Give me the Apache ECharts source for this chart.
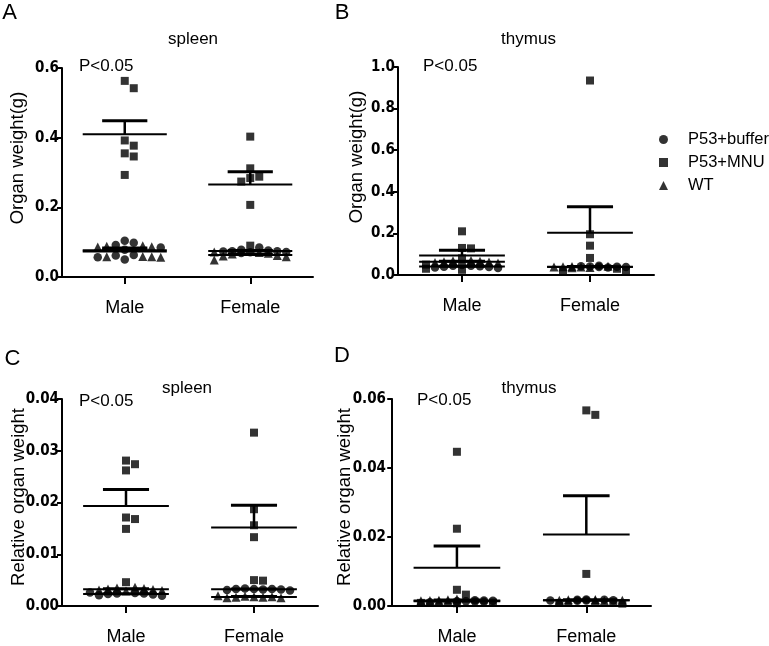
<!DOCTYPE html>
<html>
<head>
<meta charset="utf-8">
<script src="https://cdn.jsdelivr.net/npm/echarts@6/dist/echarts.min.js"></script>
<style>
  html, body { margin: 0; padding: 0; background: #fff; }
  #chart { width: 769px; height: 646px; }
</style>
</head>
<body>
<div id="chart"></div>
<script>
// categories and groups
const categories = ['Male', 'Female'];
const groupNames = ['P53+buffer', 'P53+MNU', 'WT'];

// A: spleen, organ weight (g)
const aBufferMale   = [0.098, 0.104, 0.092, 0.085, 0.063, 0.050, 0.057, 0.062, 0.078];
const aMnuMale      = [0.563, 0.542, 0.392, 0.377, 0.355, 0.346, 0.293];
const aWtMale       = [0.090, 0.087, 0.088, 0.058, 0.059, 0.057, 0.058, 0.086];
const aBufferFemale = [0.085, 0.078, 0.074, 0.072, 0.069, 0.076, 0.073, 0.071, 0.074];
const aMnuFemale    = [0.403, 0.312, 0.284, 0.274, 0.288, 0.207, 0.090];
const aWtFemale     = [0.049, 0.058, 0.060, 0.062, 0.068, 0.072, 0.066, 0.070];

// B: thymus, organ weight (g)
const bBufferMale   = [0.034, 0.038, 0.042, 0.045, 0.040, 0.036, 0.048, 0.044];
const bMnuMale      = [0.210, 0.130, 0.128, 0.080, 0.050, 0.030, 0.025];
const bWtMale       = [0.058, 0.064, 0.066, 0.060, 0.070, 0.062, 0.068];
const bBufferFemale = [0.040, 0.036, 0.042, 0.038, 0.044, 0.039, 0.041];
const bMnuFemale    = [0.935, 0.196, 0.141, 0.082, 0.030, 0.020, 0.020];
const bWtFemale     = [0.035, 0.040, 0.038, 0.042, 0.036, 0.041, 0.039];

// C: spleen, relative organ weight
const cBufferMale   = [0.0022, 0.0024, 0.0021, 0.0025, 0.0023, 0.0020, 0.0026, 0.0024];
const cMnuMale      = [0.0274, 0.0262, 0.0281, 0.0171, 0.0168, 0.0149, 0.0046];
const cWtMale       = [0.0036, 0.0031, 0.0034, 0.0029, 0.0035, 0.0032, 0.0030, 0.0033];
const cBufferFemale = [0.0033, 0.0032, 0.0034, 0.0031, 0.0033, 0.0032, 0.0030, 0.0033];
const cMnuFemale    = [0.0335, 0.0187, 0.0156, 0.0133, 0.0050, 0.0049];
const cWtFemale     = [0.0017, 0.0016, 0.0019, 0.0018, 0.0017, 0.0020, 0.0016, 0.0018];

// D: thymus, relative organ weight
const dBufferMale   = [0.0012, 0.0016, 0.0014, 0.0013, 0.0017, 0.0011, 0.0015, 0.0014];
const dMnuMale      = [0.0447, 0.0224, 0.0047, 0.0033, 0.0010, 0.0009, 0.0008];
const dWtMale       = [0.0018, 0.0015, 0.0020, 0.0014, 0.0017, 0.0016, 0.0013];
const dBufferFemale = [0.0016, 0.0018, 0.0015, 0.0019, 0.0017, 0.0016, 0.0018];
const dMnuFemale    = [0.0567, 0.0554, 0.0093, 0.0012, 0.0009, 0.0007];
const dWtFemale     = [0.0017, 0.0015, 0.0019, 0.0016, 0.0018, 0.0014, 0.0017];

// y tick labels per panel
const aTicks = [0, 0.2, 0.4, 0.6];
const bTicks = [0, 0.2, 0.4, 0.6, 0.8, 1.0];
const cTicks = [0, 0.01, 0.02, 0.03, 0.04];
const dTicks = [0, 0.02, 0.04, 0.06];

const SANS = "'Liberation Sans', Arial, sans-serif";
const NARROW = "'Liberation Sans Narrow', 'DejaVu Sans Condensed', sans-serif";
const symbols = ['circle', 'rect', 'triangle'];
const symbolSizes = [8.5, 8, 9];

const panels = [
  { letter: 'A', organ: 'spleen', yName: 'Organ weight(g)', ticks: aTicks, dec: 1,
    grid: { left: 62, top: 68, width: 251, height: 209 }, xMin: 0,
    cols: [[aBufferMale, aMnuMale, aWtMale], [aBufferFemale, aMnuFemale, aWtFemale]],
    letterPos: [9.5, 13], titlePos: [193, 39], pPos: [79, 66], namePos: [18, 158] },
  { letter: 'B', organ: 'thymus', yName: 'Organ weight(g)', ticks: bTicks, dec: 1,
    grid: { left: 398, top: 67, width: 256, height: 208 }, xMin: 0,
    cols: [[bBufferMale, bMnuMale, bWtMale], [bBufferFemale, bMnuFemale, bWtFemale]],
    letterPos: [342, 13], titlePos: [528.5, 39], pPos: [423, 66], namePos: [357, 157] },
  { letter: 'C', organ: 'spleen', yName: 'Relative organ weight', ticks: cTicks, dec: 2,
    grid: { left: 62, top: 399, width: 256, height: 210 }, xMin: 0,
    cols: [[cBufferMale, cMnuMale, cWtMale], [cBufferFemale, cMnuFemale, cWtFemale]],
    letterPos: [12.5, 359], titlePos: [187, 388], pPos: [79, 401], namePos: [19, 497] },
  { letter: 'D', organ: 'thymus', yName: 'Relative organ weight', ticks: dTicks, dec: 2,
    grid: { left: 389, top: 399, width: 262, height: 209 }, xMin: -0.05,
    cols: [[dBufferMale, dMnuMale, dWtMale], [dBufferFemale, dMnuFemale, dWtFemale]],
    letterPos: [342, 355.5], titlePos: [529, 388], pPos: [417, 400], namePos: [345, 497] }
];

const mean = a => a.reduce((s, v) => s + v, 0) / a.length;
const sem = a => {
  const m = mean(a);
  const sd = Math.sqrt(a.reduce((s, v) => s + (v - m) * (v - m), 0) / (a.length - 1));
  return sd / Math.sqrt(a.length);
};

// simple beeswarm: spread colliding points sideways, capped at +-maxK steps
function swarm(groups, center, unitPx, valPx) {
  const step = 9, dist = 8.5, maxK = 4;
  const pts = [];
  groups.forEach((vals, g) => vals.forEach(v => pts.push({ g, v })));
  const placed = [];
  pts.slice().sort((a, b) => b.v - a.v).forEach(p => {
    const yp = p.v * valPx;
    let best = 0, bestScore = -1;
    for (let i = 0; i <= 2 * maxK; i++) {
      const k = i === 0 ? 0 : (i % 2 ? (i + 1) / 2 : -i / 2);
      const xp = k * step;
      let minD = Infinity;
      placed.forEach(q => { minD = Math.min(minD, Math.hypot(xp - q.xp, yp - q.yp)); });
      if (minD >= dist) { best = xp; break; }
      if (minD > bestScore) { bestScore = minD; best = xp; }
    }
    p.xp = best; p.yp = yp;
    placed.push(p);
  });
  const out = groups.map(() => []);
  pts.forEach(p => out[p.g].push([center + p.xp / unitPx, p.v]));
  return out;
}

function renderBar(params, api) {
  const x = api.value(0), m = api.value(1), t = api.value(2);
  const pm = api.coord([x, m]);
  const pt = api.coord([x, t]);
  const wide = api.size([0.67, 0])[0];
  const cap = api.size([0.36, 0])[0];
  return {
    type: 'group',
    children: [
      { type: 'line', shape: { x1: pm[0] - wide, y1: pm[1], x2: pm[0] + wide, y2: pm[1] }, style: { stroke: '#000', lineWidth: 2 } },
      { type: 'line', shape: { x1: pm[0], y1: pm[1], x2: pt[0], y2: pt[1] }, style: { stroke: '#000', lineWidth: 2.5 } },
      { type: 'line', shape: { x1: pt[0] - cap, y1: pt[1], x2: pt[0] + cap, y2: pt[1] }, style: { stroke: '#000', lineWidth: 3 } }
    ]
  };
}

const grids = [], xAxes = [], yAxes = [], series = [], graphics = [];
const txt = (x, y, text, size, extra) => Object.assign({
  type: 'text', x, y,
  style: { text, fontSize: size, fontFamily: SANS, fill: '#000', align: 'center', verticalAlign: 'middle' }
}, extra || {});

panels.forEach((p, i) => {
  const yMax = p.ticks[p.ticks.length - 1];
  grids.push(p.grid);
  xAxes.push({
    type: 'value', gridIndex: i, min: p.xMin, max: 4,
    axisLine: { show: true, onZero: false, lineStyle: { color: '#000', width: 2 } },
    axisTick: { show: true, customValues: [1, 3], length: 7, lineStyle: { color: '#000', width: 2 } },
    axisLabel: { customValues: [1, 3], formatter: v => categories[v < 2 ? 0 : 1],
      fontSize: 18, fontFamily: SANS, color: '#000', margin: 22 },
    splitLine: { show: false }
  });
  yAxes.push({
    type: 'value', gridIndex: i, min: p.ticks[0], max: yMax, interval: p.ticks[1] - p.ticks[0],
    axisLine: { show: true, lineStyle: { color: '#000', width: 2 } },
    axisTick: { show: true, length: 5, lineStyle: { color: '#000', width: 2 } },
    axisLabel: { formatter: v => v.toFixed(p.dec), fontSize: 15, fontWeight: 'bold',
      fontFamily: NARROW, color: '#000', margin: 3 },
    splitLine: { show: false }
  });

  const unitPx = p.grid.width / (4 - p.xMin);
  const valPx = p.grid.height / (yMax - p.ticks[0]);
  const perGroup = [[], [], []];
  const bars = [];
  p.cols.forEach((col, c) => {
    const center = c === 0 ? 1 : 3;
    swarm(col, center, unitPx, valPx).forEach((pts, g) => perGroup[g].push(...pts));
    col.forEach(vals => { const m = mean(vals); bars.push([center, m, m + sem(vals)]); });
  });
  groupNames.forEach((name, g) => series.push({
    type: 'scatter', name, xAxisIndex: i, yAxisIndex: i,
    symbol: symbols[g], symbolSize: symbolSizes[g],
    itemStyle: { color: '#000' }, data: perGroup[g], silent: true
  }));
  series.push({ type: 'custom', xAxisIndex: i, yAxisIndex: i, renderItem: renderBar, data: bars, silent: true, z: 3 });

  graphics.push(txt(p.letterPos[0], p.letterPos[1], p.letter, 22));
  graphics.push(txt(p.titlePos[0], p.titlePos[1], p.organ, 17));
  graphics.push(txt(p.pPos[0], p.pPos[1], 'P<0.05', 17, {}));
  graphics[graphics.length - 1].style.align = 'left';
  graphics.push(txt(p.namePos[0], p.namePos[1], p.yName, 18.5, { rotation: Math.PI / 2 }));
});

const chart = echarts.init(document.getElementById('chart'));
chart.setOption({
  backgroundColor: '#fff',
  animation: false,
  grid: grids,
  xAxis: xAxes,
  yAxis: yAxes,
  legend: {
    data: groupNames.map((n, g) => ({ name: n, icon: symbols[g] })),
    orient: 'vertical', left: 654, top: 126,
    itemWidth: 9, itemHeight: 9, itemGap: 6, selectedMode: false,
    itemStyle: { color: '#000' },
    textStyle: { fontSize: 16.5, lineHeight: 17, fontFamily: SANS, color: '#000', padding: [0, 0, 0, 15] }
  },
  graphic: graphics,
  series
});
</script>
</body>
</html>
